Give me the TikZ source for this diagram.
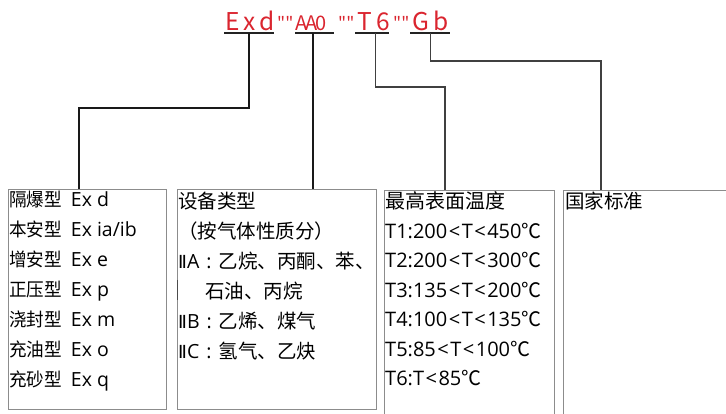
\documentclass[tikz,border=0pt]{standalone}
\usepackage{fontspec}
\setmainfont{Open Sans}
\newfontfamily\cjkf{Noto Sans CJK SC}
\newfontfamily\cjkn[FakeStretch=0.95]{Noto Sans CJK SC}
\newfontfamily\plainf{Noto Sans CJK SC}
\newfontfamily\dv{DejaVu Sans}
\usetikzlibrary{calc}
\definecolor{tred}{RGB}{218,37,47}
\definecolor{boxgray}{RGB}{140,140,140}
\definecolor{linedark}{RGB}{35,35,35}
\newcommand\bn[1]{{\cjkn\fontsize{18.5}{20}\selectfont #1}\hspace{9pt}}
\newcommand\cj[1]{{\cjkf #1}}
\newcommand\rmII{{\dv\fontsize{18}{20}\selectfont Ⅱ}}
\newcommand\lt{\hspace{1.5pt}<\hspace{1.5pt}}
\newcommand\colsep{\hspace{7pt}:\hspace{7pt}}
\begin{document}
\begin{tikzpicture}[x=1pt,y=-1pt,
  box/.style={draw=boxgray, line width=0.9pt, anchor=north west, inner sep=0pt},
  ttl/.style={text=tred, font=\plainf\fontsize{24.5}{28}\selectfont\addfontfeature{LetterSpace=18}, anchor=base west, inner sep=0pt},
  qt/.style={text=tred, font=\plainf\fontsize{17}{18}\selectfont, anchor=base west, inner sep=0pt},
  uline/.style={draw=linedark, line width=1.4pt},
  thickconn/.style={draw=black!90, line width=2pt},
  thinconn/.style={draw=black!75, line width=1.3pt},
  txt/.style={anchor=base west, inner sep=0pt, font=\fontsize{19.5}{22}\selectfont, text=black},
]
\useasboundingbox (0,0) rectangle (726,414);
\clip (0,0) rectangle (726,414);

% title
\node[ttl] (exd) at (225,31) {Exd};
\node[qt] (q1) at (277,30) {""};
\node[qt, font=\plainf\fontsize{20}{22}\selectfont\addfontfeature{LetterSpace=-10}] (aa0) at (295,31) {AA0};
\node[qt] (q2) at (338,30) {""};
\node[ttl] (t6) at (357,31) {T6};
\node[qt] (q3) at (393,30) {""};
\node[ttl] (gb) at (412,31) {Gb};

\draw[uline] (224,33) -- (274,33);
\draw[uline] (295,33) -- (334,33);
\draw[uline] (355,33) -- (389,33);
\draw[uline] (410,33) -- (450,33);

% boxes
\node[box, minimum width=158pt, minimum height=220pt] (box1) at (8,189) {};
\node[box, minimum width=199pt, minimum height=220pt] (box2) at (177,189) {};
\node[box, minimum width=170pt, minimum height=240pt] (box3) at (384,190) {};
\node[box, minimum width=180pt, minimum height=240pt] (box4) at (563,190) {};
\draw[line width=1.2pt, black!70] (177.5,280) -- (177.5,300);

% connectors
\coordinate (u1) at (249,33);
\coordinate (u2) at (313,33);
\coordinate (u3) at (375.5,33);
\coordinate (u4) at (430.5,33);
\draw[thickconn] (u1) -- ++(0,75) -| ($(box1.north west)+(71,0)$);
\draw[thickconn] (u2) -- (u2 |- box2.north);
\draw[thinconn] (u3) -- ++(0,54) -| ($(box3.north west)+(61,0)$);
\draw[thinconn] (u4) -- ++(0,28) -| ($(box4.north west)+(38,0)$);

% box texts
\foreach \s [count=\i] in {\bn{隔爆型}Ex d, \bn{本安型}Ex ia/ib, \bn{增安型}Ex e, \bn{正压型}Ex p, \bn{浇封型}Ex m, \bn{充油型}Ex o, \bn{充砂型}Ex q}
  \node[txt] (a\i) at (9, 207+29.9*\i-29.9) {\s};

\foreach \s [count=\i] in {\cj{设备类型}, \cj{（按气体性质分）}, \rmII A\colsep\cj{乙烷、丙酮、苯、}, \hspace*{27pt}\cj{石油、丙烷}, \rmII B\colsep\cj{乙烯、煤气}, \rmII C\colsep\cj{氢气、乙炔}}
  \node[txt] (b\i) at (178, 209+29.8*\i-29.8) {\s};

\foreach \s [count=\i] in {\cj{最高表面温度}, T1:200\lt T\lt 450\cj{℃}, T2:200\lt T\lt 300\cj{℃}, T3:135\lt T\lt 200\cj{℃}, T4:100\lt T\lt 135\cj{℃}, T5:85\lt T\lt 100\cj{℃}, T6:T\lt 85\cj{℃}}
  \node[txt, font=\fontsize{20}{22}\selectfont] (c\i) at (385, 209+29.4*\i-29.4) {\s};

\node[txt] (d1) at (565,209) {\cj{国家标准}};
\end{tikzpicture}
\end{document}
